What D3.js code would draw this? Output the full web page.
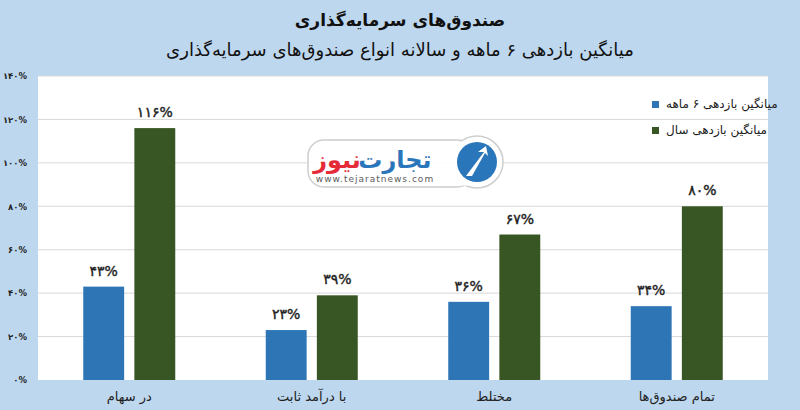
<!DOCTYPE html>
<html><head><meta charset="utf-8">
<script src="https://cdn.jsdelivr.net/npm/d3@7"></script>
<style>
html,body{margin:0;padding:0;background:#BDD7EE;}
svg{display:block;}
text{font-family:"DejaVu Sans","Noto Sans",sans-serif;}
</style></head>
<body>
<svg id="chart" width="800" height="410"></svg>
<script>
const categories = ["در سهام", "با درآمد ثابت", "مختلط", "تمام صندوق‌ها"];
const seriesNames = ["میانگین بازدهی ۶ ماهه", "میانگین بازدهی سال"];
const sixMonth = [43, 23, 36, 34];
const annual = [116, 39, 67, 80];
const yTicks = [0, 20, 40, 60, 80, 100, 120, 140];
const colors = ["#2E75B6", "#375623"];
const titleText = "صندوق‌های سرمایه‌گذاری";
const subtitleText = "میانگین بازدهی ۶ ماهه و سالانه انواع صندوق‌های سرمایه‌گذاری";

const fa = v => String(v).replace(/\d/g, d => "۰۱۲۳۴۵۶۷۸۹"[d]);

const svg = d3.select("#chart");
const W = 800, H = 410;
const plot = {left: 38, right: 768, top: 76, bottom: 380};

svg.append("rect").attr("width", W).attr("height", H).attr("fill", "#BDD7EE");

svg.append("text").attr("x", 400).attr("y", 26).attr("text-anchor", "middle")
  .attr("font-size", 17).attr("font-weight", "bold").attr("fill", "#111").text(titleText);
svg.append("text").attr("x", 400).attr("y", 56).attr("text-anchor", "middle")
  .attr("font-size", 18).attr("fill", "#111").text(subtitleText);

svg.append("rect").attr("x", plot.left).attr("y", plot.top)
  .attr("width", plot.right - plot.left).attr("height", plot.bottom - plot.top).attr("fill", "#fff");

const y = d3.scaleLinear().domain([0, 140]).range([plot.bottom, plot.top]);
const x0 = d3.scaleBand().domain(categories).range([plot.left, plot.right]).padding(0);
const bw = x0.bandwidth();
const x1 = d3.scaleBand().domain([0, 1]).range([bw / 2 - 46, bw / 2 + 46]).paddingInner(0.2);

// gridlines
svg.append("g").selectAll("line").data(yTicks.slice(1)).join("line")
  .attr("x1", plot.left).attr("x2", plot.right)
  .attr("y1", d => y(d)).attr("y2", d => y(d))
  .attr("stroke", "#d9d9d9").attr("stroke-width", 1);

// y axis labels
const yAxis = d3.axisLeft(y).tickValues(yTicks).tickSize(0).tickPadding(0).tickFormat(d => fa(d) + "%");
const ga = svg.append("g").attr("transform", `translate(27,0)`).call(yAxis);
ga.select(".domain").remove();
ga.selectAll("text").attr("font-size", 8.5).attr("font-weight", "bold").attr("fill", "#222")
  .attr("font-family", "DejaVu Sans");

// logo watermark
const logo = svg.append("g").attr("opacity", 0.95);
logo.append("rect").attr("x", 308).attr("y", 140).attr("width", 165).attr("height", 47).attr("rx", 16)
  .attr("fill", "#fff").attr("stroke", "#ccc").attr("stroke-width", 1.5);
logo.append("circle").attr("cx", 477).attr("cy", 162).attr("r", 26).attr("fill", "#fff").attr("stroke", "#ccc").attr("stroke-width", 1.5);
logo.append("rect").attr("x", 440).attr("y", 141.5).attr("width", 30).attr("height", 44).attr("fill", "#fff");
logo.append("circle").attr("cx", 477).attr("cy", 162).attr("r", 20).attr("fill", "#1f6fb8");
logo.append("path").attr("d", "M466,176 L484,152 L478,152 L486,146 L488,156 L485,153 L472,176 Z").attr("fill", "#fff");
logo.append("text").attr("x", 395).attr("y", 168).attr("text-anchor", "middle").attr("font-size", 24)
  .attr("font-weight", "bold").attr("fill", "#1f6fb8").text("تجارت");
logo.append("text").attr("x", 337).attr("y", 168).attr("text-anchor", "middle").attr("font-size", 24)
  .attr("font-weight", "bold").attr("fill", "#e5202e").text("نیوز");
logo.append("text").attr("x", 375).attr("y", 182).attr("text-anchor", "middle").attr("font-size", 9)
  .attr("letter-spacing", 1).attr("fill", "#555").text("www.tejaratnews.com");

// bars
const data = categories.map((c, i) => ({cat: c, vals: [sixMonth[i], annual[i]]}));
const groups = svg.append("g").selectAll("g").data(data).join("g")
  .attr("transform", d => `translate(${x0(d.cat)},0)`);
groups.selectAll("rect").data(d => d.vals.map((v, k) => ({v, k}))).join("rect")
  .attr("x", d => x1(d.k)).attr("width", x1.bandwidth())
  .attr("y", d => y(d.v)).attr("height", d => y(0) - y(d.v))
  .attr("fill", d => colors[d.k]);
groups.selectAll("text.val").data(d => d.vals.map((v, k) => ({v, k}))).join("text")
  .attr("class", "val")
  .attr("x", d => x1(d.k) + x1.bandwidth() / 2).attr("y", d => y(d.v) - 11)
  .attr("text-anchor", "middle").attr("font-size", 14).attr("fill", "#222")
  .attr("stroke", "#222").attr("stroke-width", 0.4)
  .text(d => fa(d.v) + "%");

// category labels
svg.append("g").selectAll("text").data(categories).join("text")
  .attr("x", d => x0(d) + bw / 2).attr("y", 401).attr("text-anchor", "middle")
  .attr("font-size", 13).attr("fill", "#222").text(d => d);

// legend
const leg = svg.append("g");
seriesNames.forEach((s, i) => {
  const ly = 105 + i * 26;
  leg.append("rect").attr("x", 652).attr("y", ly - 4).attr("width", 7).attr("height", 7).attr("fill", colors[i]);
  leg.append("text").attr("x", 666).attr("y", ly + 3).attr("font-size", 12).attr("fill", "#222")
    .attr("direction", "ltr").text(s);
});
</script>
</body></html>
